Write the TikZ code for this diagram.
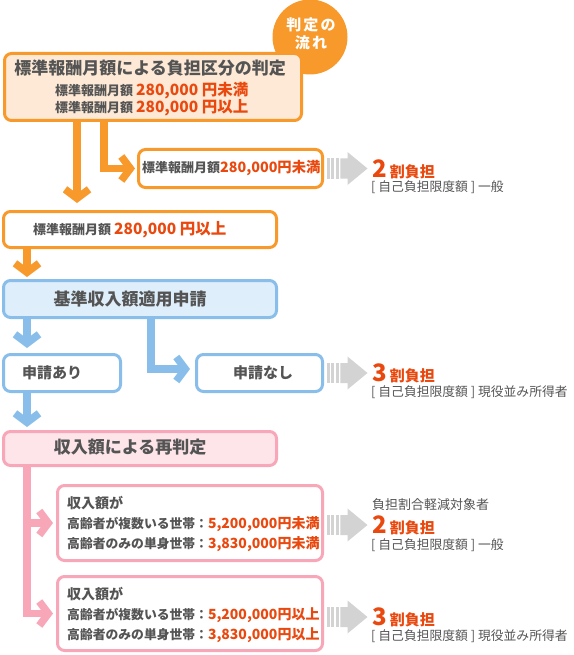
\documentclass[tikz,border=0pt]{standalone}
\usepackage{fontspec}
\setmainfont{Noto Sans CJK JP}
\newfontfamily\circfont{Noto Sans CJK JP}[LetterSpace=14]
\usetikzlibrary{arrows.meta}
\definecolor{orng}{HTML}{F8992B}
\definecolor{peach}{HTML}{FDE9D5}
\definecolor{redtx}{HTML}{E9480E}
\definecolor{graytx}{HTML}{545454}
\definecolor{bluel}{HTML}{88BEE9}
\definecolor{bluef}{HTML}{DFEEFB}
\definecolor{pinkl}{HTML}{F7A7B7}
\definecolor{pinkf}{HTML}{FDE5EA}
\definecolor{garr}{HTML}{D3D3D3}
\newcommand{\fs}[1]{\fontsize{#1}{#1}\selectfont}
\newcommand{\rd}[1]{{\color{redtx}\bfseries #1}}
\begin{document}
\begin{tikzpicture}[x=1pt,y=-1pt,
  box/.style={draw, rounded corners=7pt, line width=3pt, inner sep=0pt, anchor=north west},
  obox/.style={box, draw=orng, fill=white},
  pchbox/.style={box, draw=orng, fill=peach},
  bbox/.style={box, draw=bluel, fill=bluef},
  wbbox/.style={box, draw=bluel, fill=white},
  pkbox/.style={box, draw=pinkl, fill=pinkf},
  wpbox/.style={box, draw=pinkl, fill=white},
  txt/.style={inner sep=0pt, text=graytx, font=\bfseries},
  conn/.style={line width=7.5pt, -{Straight Barb[length=9pt,width=24pt,sharp]}},
  oarr/.style={conn, draw=orng},
  barr/.style={conn, draw=bluel},
  parr/.style={conn, draw=pinkl},
  grayarr/.pic={
    \fill[garr] (0,-10) rectangle (3.3,10);
    \fill[garr] (4.6,-10) rectangle (7.9,10);
    \fill[garr] (9.2,-10) rectangle (12.5,10);
    \fill[garr] (13.8,-10) -- (21,-10) -- (21,-16.5) -- (41,0) -- (21,16.5) -- (21,10) -- (13.8,10) -- cycle;
  }
]
\useasboundingbox (0,0) rectangle (573,655);

% circle badge
\node[circle, fill=orng, minimum size=75, inner sep=0pt] (flow) at (310,37) {};
\node[inner sep=0pt, text=white, align=center, font=\circfont\bfseries\fontsize{15}{18}\selectfont] (flowt) at (311,34) {判定の\\流れ};

% boxes
\node[pchbox, minimum width=297, minimum height=67] (b1) at (3,52) {};
\node[obox, minimum width=184, minimum height=38] (b2) at (137,148) {};
\node[obox, minimum width=273, minimum height=36] (b3) at (2,210) {};
\node[bbox, minimum width=273, minimum height=37] (b4) at (2,279) {};
\node[wbbox, minimum width=117, minimum height=37] (b5) at (2,353) {};
\node[wbbox, minimum width=126, minimum height=37] (b6) at (195,353) {};
\node[pkbox, minimum width=273, minimum height=34] (b7) at (2,430) {};
\node[wpbox, minimum width=265, minimum height=75] (b8) at (56,484) {};
\node[wpbox, minimum width=265, minimum height=74] (b9) at (56,575) {};

% texts in boxes
\node[txt, font=\bfseries\fs{17}] (t1) at (150,68) {標準報酬月額による負担区分の判定};
\node[txt, anchor=west] (t1a) at (55,91) {\fs{13}標準報酬月額 \rd{\fs{15.5}280,000 円未満}};
\node[txt, anchor=west] (t1b) at (55,107.5) {\fs{13}標準報酬月額 \rd{\fs{15.5}280,000 円以上}};
\node[txt, anchor=west] (t2) at (142,168.5) {\fs{13}標準報酬月額\rd{\fs{14.3}280,000円未満}};
\node[txt, anchor=west] (t3) at (33,230) {\fs{13}標準報酬月額 \rd{\fs{15.5}280,000 円以上}};
\node[txt, font=\bfseries\fs{17}] (t4) at (130,299) {基準収入額適用申請};
\node[txt, font=\bfseries\fs{15}] (t5) at (52,373) {申請あり};
\node[txt, font=\bfseries\fs{15}] (t6) at (263,373) {申請なし};
\node[txt, font=\bfseries\fs{17}] (t7) at (130,447) {収入額による再判定};
\node[txt, anchor=west, font=\bfseries\fs{14}] (t8a) at (67,503) {収入額が};
\node[txt, anchor=west] (t8b) at (67,524) {\fs{12.8}高齢者が複数いる世帯：\rd{\fs{14}5,200,000円未満}};
\node[txt, anchor=west] (t8c) at (67,544.5) {\fs{12.8}高齢者のみの単身世帯：\rd{\fs{14}3,830,000円未満}};
\node[txt, anchor=west, font=\bfseries\fs{14}] (t9a) at (67,594) {収入額が};
\node[txt, anchor=west] (t9b) at (67,615) {\fs{12.8}高齢者が複数いる世帯：\rd{\fs{14}5,200,000円以上}};
\node[txt, anchor=west] (t9c) at (67,635.5) {\fs{12.8}高齢者のみの単身世帯：\rd{\fs{14}3,830,000円以上}};

% results
\node[txt, anchor=base west] (r1) at (372,177) {\rd{\fs{24}2}\hspace{3pt}\rd{\fs{15}割負担}};
\node[txt, anchor=west, font=\fs{12.8}] (r1b) at (371,187) {[ 自己負担限度額 ] 一般};
\node[txt, anchor=base west] (r2) at (372,381.5) {\rd{\fs{24}3}\hspace{3pt}\rd{\fs{15}割負担}};
\node[txt, anchor=west, font=\fs{12.8}] (r2b) at (371,392) {[ 自己負担限度額 ] 現役並み所得者};
\node[txt, anchor=west, font=\fs{13}] (r3a) at (372,505) {負担割合軽減対象者};
\node[txt, anchor=base west] (r3) at (372,533) {\rd{\fs{24}2}\hspace{3pt}\rd{\fs{15}割負担}};
\node[txt, anchor=west, font=\fs{12.8}] (r3b) at (371,545) {[ 自己負担限度額 ] 一般};
\node[txt, anchor=base west] (r4) at (372,625.5) {\rd{\fs{24}3}\hspace{3pt}\rd{\fs{15}割負担}};
\node[txt, anchor=west, font=\fs{12.8}] (r4b) at (371,636) {[ 自己負担限度額 ] 現役並み所得者};

% gray arrows
\pic at ([xshift=2.5pt]b2.east) {grayarr};
\pic at ([xshift=2.5pt]b6.east) {grayarr};
\pic at ([xshift=2.5pt,yshift=-2pt]b8.east) {grayarr};
\pic at ([xshift=2.5pt,yshift=-3.5pt]b9.east) {grayarr};

% connectors
\draw[oarr] (77,0 |- b1.south) -- ([yshift=7pt]77,0 |- b3.north);
\draw[oarr] (104,0 |- b1.south) |- ([xshift=-2pt]b2.west);
\draw[oarr] (27,0 |- b3.south) -- ([yshift=2pt]27,0 |- b4.north);
\draw[barr] (27,0 |- b4.south) -- ([yshift=5pt]27,0 |- b5.north);
\draw[barr] (151,0 |- b4.south) |- ([xshift=-5pt,yshift=4pt]b6.west);
\draw[barr] (27,0 |- b5.south) -- ([yshift=3pt]27,0 |- b7.north);
\draw[parr] (27,0 |- b7.south) |- ([xshift=-3pt]b9.west);
\draw[parr] (27,0 |- b8.west) -- ([xshift=-3pt]b8.west);
\end{tikzpicture}
\end{document}
